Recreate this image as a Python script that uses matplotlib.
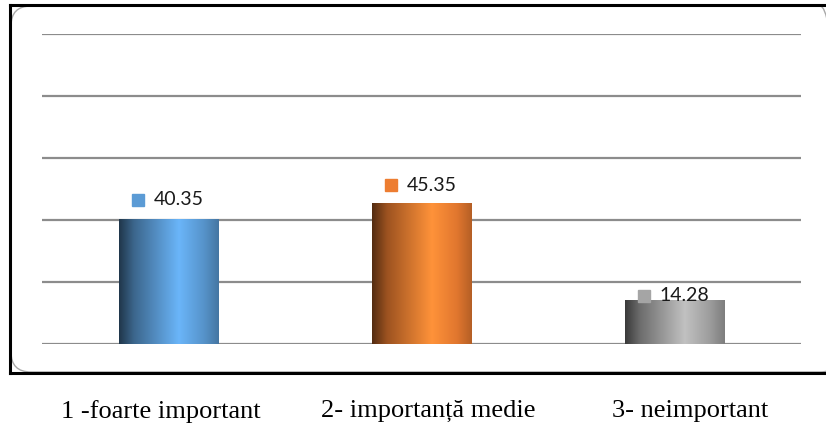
import matplotlib.pyplot as plt
import numpy as np
from matplotlib.colors import LinearSegmentedColormap, to_rgb
from matplotlib.patches import FancyBboxPatch
from matplotlib.lines import Line2D
from matplotlib.transforms import ScaledTranslation
from matplotlib import font_manager

categories = ['1 -foarte important', '2- importanță medie', '3- neimportant']
values = [40.35, 45.35, 14.28]
colors = ['#5b9bd5', '#ed7d31', '#a5a5a5']
label_lift = [19, 18, 4]      # px between bar top and value label
caption_shift = [-8, 7, 16]   # px nudge of category captions

fig = plt.figure(figsize=(8.26, 4.32), dpi=100)
W, H = 826, 432

# frame: black box with a soft rounded inner border (inch coordinates)
fig.add_artist(FancyBboxPatch((11 / 100, (H - 372) / 100), (840 - 11) / 100, (372 - 6) / 100,
                              boxstyle='round,pad=0,rounding_size=0.2',
                              transform=fig.dpi_scale_trans, fc='none', ec='#a8a8a8',
                              lw=1.0, zorder=0))
for xs, ys in [([10, 10], [5, 373]), ([10, 830], [5, 5]), ([10, 830], [373, 373])]:
    fig.add_artist(Line2D([x / W for x in xs], [1 - y / H for y in ys],
                          transform=fig.transFigure, color='black', lw=2.2, zorder=5))

ax = fig.add_axes([42 / W, 88 / H, (801 - 42) / W, 310 / H])
ax.set_zorder(2)
ax.patch.set_alpha(0)
x = np.arange(len(categories))
for s in ax.spines.values():
    s.set_visible(False)
ax.set_yticks([])
for g in range(0, 101, 20):
    ax.axhline(g, color='#8c8c8c', lw=1.6, zorder=1)

bars = ax.bar(x, values, width=0.395, color='none', zorder=2)

# cylinder-like horizontal shading
stops = [0.0, 0.15, 0.6, 0.85, 1.0]
shade = [0.35, 0.66, 1.17, 0.95, 0.76]
grad = np.linspace(0, 1, 256).reshape(1, -1)
for b, c in zip(bars, colors):
    base = np.array(to_rgb(c))
    cmap = LinearSegmentedColormap.from_list(
        'shade', [(p, tuple(np.clip(base * k, 0, 1))) for p, k in zip(stops, shade)])
    x0, w, h = b.get_x(), b.get_width(), b.get_height()
    im = ax.imshow(grad, cmap=cmap, extent=(x0, x0 + w, 0, h), aspect='auto', zorder=2)
    im.set_clip_path(b)
ax.set_xlim(-0.5, 2.5)
ax.set_ylim(0, 100)

# value labels with color key
for xi, v, c, lift in zip(x, values, colors, label_lift):
    ax.plot([xi], [v], marker='s', ms=8.5, color=c, mec=c, ls='none', zorder=4,
            transform=ax.transData + ScaledTranslation(-31 / 100, lift / 100,
                                                       fig.dpi_scale_trans))
    ax.annotate(f'{v:.2f}', (xi, v), xytext=(-15, lift), textcoords='offset pixels',
                ha='left', va='center', fontsize=14, family='Lato', color='#1a1a1a', zorder=4)

serif = font_manager.FontProperties(family=['Liberation Serif', 'DejaVu Serif'], size=19)
ax.set_xticks(x)
ax.set_xticklabels(categories, fontproperties=serif)
ax.tick_params(axis='x', length=0, pad=40)
for lab, dx in zip(ax.get_xticklabels(), caption_shift):
    lab.set_transform(lab.get_transform() + ScaledTranslation(dx / 100, 0, fig.dpi_scale_trans))

fig.savefig('out.png', dpi=100)
